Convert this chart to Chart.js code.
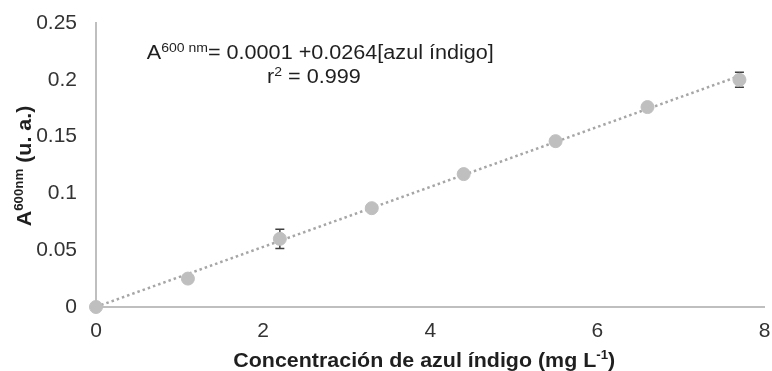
<!DOCTYPE html>
<html>
<head>
<meta charset="utf-8">
<script src="https://cdn.jsdelivr.net/npm/chart.js@4.4.0/dist/chart.umd.min.js"></script>
<style>
    html, body { margin: 0; padding: 0; background: #ffffff; }
    canvas { display: block; }
</style>
</head>
<body>
<canvas id="curvaCalibracion" width="772" height="371"></canvas>
<script>
// Datos
const concentracion = [0, 1.1, 2.2, 3.3, 4.4, 5.5, 6.6, 7.7];
const absorbancia = [0, 0.025, 0.060, 0.087, 0.117, 0.146, 0.176, 0.200];
const errorAbs = [0, 0.001, 0.0084, 0.001, 0.001, 0.0015, 0.0015, 0.0066];

// Línea de tendencia: A = 0.0001 + 0.0264 [azul índigo]
const tendenciaX = [0, 7.7];
const tendenciaY = [0.0001, 0.2034];

const yTickLabels = ['0', '0.05', '0.1', '0.15', '0.2', '0.25'];

const FONT = '"Liberation Sans", Arial, sans-serif';

const puntos = concentracion.map((x, i) => ({ x: x, y: absorbancia[i] }));
const tendencia = tendenciaX.map((x, i) => ({ x: x, y: tendenciaY[i] }));

// Dibuja texto con partes de distinto tamaño (superíndices), con un
// pequeño estiramiento horizontal como en la figura original
function textoRico(ctx, partes, x, y, align, sx) {
    let total = 0;
    partes.forEach(p => {
        ctx.font = (p.bold ? 'bold ' : '') + p.size + 'px ' + FONT;
        p.w = ctx.measureText(p.t).width;
        total += p.w;
    });
    ctx.save();
    ctx.translate(x, y);
    ctx.scale(sx, 1);
    let cx = align === 'center' ? -total / 2 : 0;
    partes.forEach(p => {
        ctx.font = (p.bold ? 'bold ' : '') + p.size + 'px ' + FONT;
        ctx.fillText(p.t, cx, -(p.up || 0));
        cx += p.w;
    });
    ctx.restore();
}

const barrasError = {
    id: 'barrasError',
    beforeDatasetsDraw(chart) {
        const ctx = chart.ctx;
        const xs = chart.scales.x;
        const ys = chart.scales.y;
        ctx.save();
        ctx.strokeStyle = '#404040';
        ctx.lineWidth = 1.5;
        concentracion.forEach((c, i) => {
            const px = xs.getPixelForValue(c);
            const top = ys.getPixelForValue(absorbancia[i] + errorAbs[i]);
            const bot = ys.getPixelForValue(absorbancia[i] - errorAbs[i]);
            ctx.beginPath();
            ctx.moveTo(px, top); ctx.lineTo(px, bot);
            ctx.moveTo(px - 4.5, top); ctx.lineTo(px + 4.5, top);
            ctx.moveTo(px - 4.5, bot); ctx.lineTo(px + 4.5, bot);
            ctx.stroke();
        });
        ctx.restore();
    }
};

const textos = {
    id: 'textos',
    afterDraw(chart) {
        const ctx = chart.ctx;
        const xs = chart.scales.x;
        const ys = chart.scales.y;
        const area = chart.chartArea;
        ctx.save();
        ctx.textBaseline = 'alphabetic';
        ctx.textAlign = 'left';
        ctx.fillStyle = '#1f1f1f';

        // ecuación de la recta
        textoRico(ctx, [
            { t: 'A', size: 20 },
            { t: '600 nm', size: 13, up: 7 },
            { t: '= 0.0001 +0.0264[azul índigo]', size: 20 }
        ], xs.getPixelForValue(0.607), ys.getPixelForValue(0.2183), 'left', 1.08);
        textoRico(ctx, [
            { t: 'r', size: 20 },
            { t: '2', size: 13, up: 7 },
            { t: ' = 0.999', size: 20 }
        ], xs.getPixelForValue(2.607), ys.getPixelForValue(0.1972), 'center', 1.08);

        // título eje x
        textoRico(ctx, [
            { t: 'Concentración de azul índigo (mg L', size: 21, bold: true },
            { t: '-1', size: 13, bold: true, up: 8 },
            { t: ')', size: 21, bold: true }
        ], (area.left + area.right) / 2 - 6, 367, 'center', 1.02);

        // título eje y
        ctx.translate(31, 166);
        ctx.rotate(-Math.PI / 2);
        textoRico(ctx, [
            { t: 'A', size: 21, bold: true },
            { t: '600nm', size: 13, bold: true, up: 8 },
            { t: ' (u. a.)', size: 21, bold: true }
        ], 0, 0, 'center', 1.02);
        ctx.restore();
    }
};

const config = {
    type: 'scatter',
    data: {
        datasets: [{
            label: 'Absorbancia',
            data: puntos,
            backgroundColor: '#bfbfbf',
            borderColor: '#bfbfbf',
            pointRadius: 6.5,
            pointHoverRadius: 6.5,
            showLine: false,
            clip: false
        },
        {
            label: 'Tendencia',
            type: 'line',
            data: tendencia,
            borderColor: '#a6a6a6',
            borderWidth: 2.5,
            borderDash: [2.5, 3],
            pointRadius: 0,
            fill: false
        }]
    },
    options: {
        responsive: false,
        animation: false,
        layout: {
            padding: { left: 0, right: 4, top: 23, bottom: 0 }
        },
        plugins: {
            legend: { display: false },
            tooltip: { enabled: false }
        },
        scales: {
            x: {
                type: 'linear',
                min: 0,
                max: 8,
                afterFit: scale => {
                    scale.height = 64;
                    scale.paddingRight = 0;
                    scale.paddingLeft = 0;
                },
                ticks: {
                    stepSize: 2,
                    padding: 12,
                    color: '#333333',
                    font: { family: FONT, size: 21 }
                },
                grid: { display: false, drawTicks: false },
                border: { display: true, color: '#bfbfbf', width: 2 }
            },
            y: {
                type: 'linear',
                min: 0,
                max: 0.25,
                afterFit: scale => {
                    scale.width = 96;
                    scale.paddingTop = 0;
                    scale.paddingBottom = 0;
                },
                ticks: {
                    stepSize: 0.05,
                    padding: 19,
                    color: '#333333',
                    font: { family: FONT, size: 21 },
                    callback: value => yTickLabels[Math.round(value / 0.05)]
                },
                grid: { display: false, drawTicks: false },
                border: { display: true, color: '#bfbfbf', width: 2 }
            }
        }
    },
    plugins: [barrasError, textos]
};

const grafico = new Chart(document.getElementById('curvaCalibracion'), config);
</script>
</body>
</html>
